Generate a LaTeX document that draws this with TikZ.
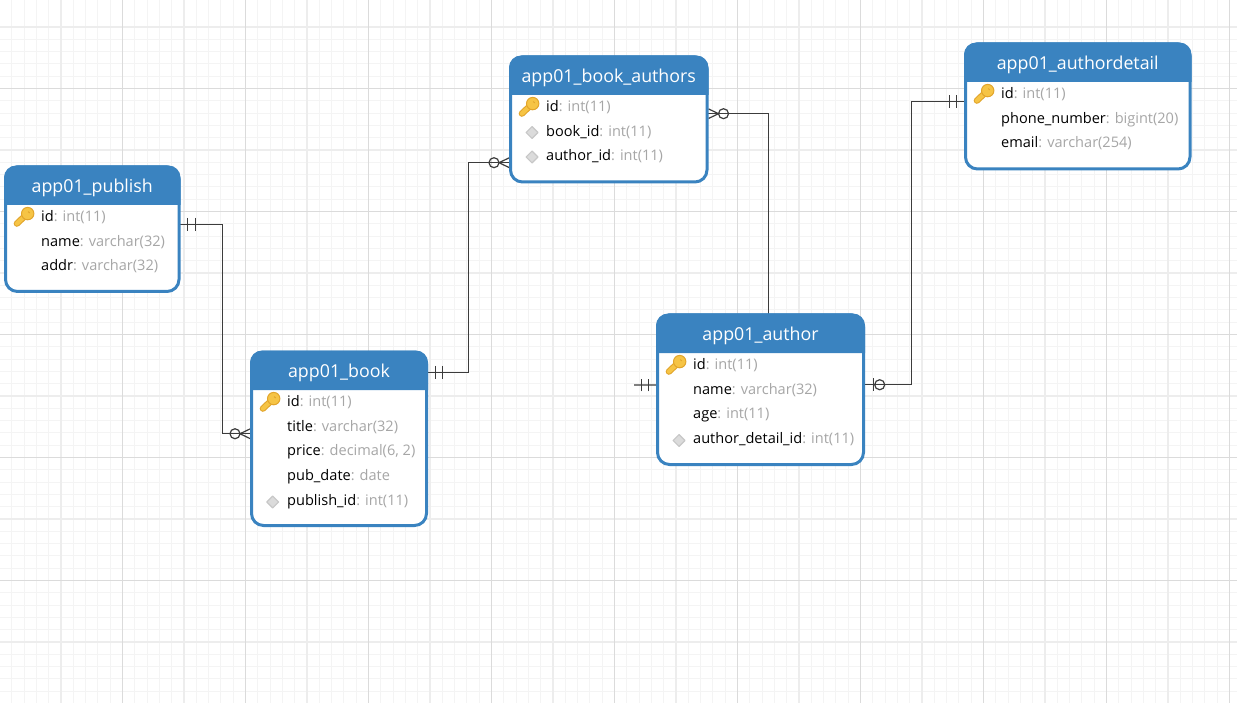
\documentclass[tikz,border=0pt]{standalone}
\usepackage{fontspec}
\setmainfont{Open Sans}
\usetikzlibrary{calc}
\pgfdeclarelayer{bg}
\pgfsetlayers{bg,main}
\definecolor{hdrblue}{HTML}{3A83C0}
\definecolor{typegray}{HTML}{A6A6A6}
\definecolor{connc}{HTML}{3C3C3C}
\definecolor{gridminor}{HTML}{F4F4F4}
\definecolor{gridmid}{HTML}{EDEDED}
\definecolor{gridmajor}{HTML}{DBDBDB}
\definecolor{keyfill}{HTML}{F6C445}
\definecolor{keyedge}{HTML}{E2A52C}
\tikzset{
  tablebox/.style={draw=hdrblue,fill=white,line width=3pt,rounded corners=12pt,outer sep=0pt,inner sep=0pt},
  titletext/.style={text=white,font=\fontsize{17.8}{20}\selectfont,inner sep=0pt},
  rowtext/.style={anchor=base west,font=\fontsize{14.55}{17}\selectfont,inner sep=0pt},
  conn/.style={draw=connc,line width=1.2pt},
  connmark/.style={draw=connc,line width=1.2pt},
  pics/onebars/.style={code={
    \draw[connmark] (8.8,-6.3) -- (8.8,6.3);
    \draw[connmark] (16.3,-6.3) -- (16.3,6.3);}},
  pics/crow/.style={code={
    \draw[connmark] (1.5,-4.8) -- (11.5,0) -- (1.5,4.8);
    \draw[connmark] (16.5,0) circle (5pt);}},
  pics/zeroone/.style={code={
    \draw[connmark] (9.8,-6.3) -- (9.8,6.3);
    \draw[connmark] (16.2,0) circle (5pt);}},
  pics/keyicon/.style={code={
    \draw[keyedge,line width=6.4pt,line cap=round] (-7.6,6.6) -- (3,-3.4);
    \draw[keyfill,line width=4.2pt,line cap=round] (-7.6,6.6) -- (3,-3.4);
    \draw[keyedge,line width=1pt,fill=keyfill] (3.2,-3.4) circle (6.2pt);
    \draw[keyedge,line width=1pt] (3.8,-5.4) -- (5.2,-4);
    }},
  pics/fkicon/.style={code={
    \draw[draw=black!22,fill=black!14,line width=1.2pt,line join=round]
      (-5.9,0) -- (0,-5.9) -- (5.9,0) -- (0,5.9) -- cycle;}},
}
\newcommand{\fld}[2]{#1\textcolor{typegray}{: #2}}
% name, outer x0,y0,x1,y1, header bottom, title
\newcommand{\erbox}[7]{%
  \pgfmathsetmacro{\bcx}{(#2+#4)/2}\pgfmathsetmacro{\bcy}{(#3+#5)/2}%
  \pgfmathsetmacro{\bwd}{#4-#2-3}\pgfmathsetmacro{\bht}{#5-#3-3}%
  \node[tablebox,minimum width=\bwd pt,minimum height=\bht pt] (#1) at (\bcx,\bcy) {};
  \fill[hdrblue] (#2,#6) [rounded corners=12pt] -- (#2,#3) -- (#4,#3) [sharp corners] -- (#4,#6) -- cycle;
  \pgfmathsetmacro{\btx}{(#2+#4)/2}\pgfmathsetmacro{\bty}{(#3+#6)/2+2.3}%
  \node[titletext] (#1-title) at (\btx,\bty) {#7};
}
% table, row no, text x, header bottom, content
\newcommand{\errow}[5]{%
  \pgfmathsetmacro{\bry}{#4+16.4+24.7*(#2-1)}%
  \node[rowtext] (#1-r#2) at (#3,\bry) {#5};
}
\begin{document}
\begin{tikzpicture}[x=1pt,y=-1pt]
\useasboundingbox (0,0) rectangle (1237,703);
\begin{pgfonlayer}{bg}
  \fill[white] (0,0) rectangle (1237,703);
  \foreach \i in {-10,...,100}{
    \pgfmathsetmacro{\gx}{122.5+12.3*\i}
    \draw[gridminor,line width=1pt] (\gx,0) -- (\gx,703);
  }
  \foreach \i in {-5,...,55}{
    \pgfmathsetmacro{\gy}{88.5+12.3*\i}
    \draw[gridminor,line width=1pt] (0,\gy) -- (1237,\gy);
  }
  \foreach \i in {-1,...,10}{
    \pgfmathsetmacro{\gx}{61+123*\i}
    \draw[gridmid,line width=1.2pt] (\gx,0) -- (\gx,703);
    \pgfmathsetmacro{\gy}{27+123*(\i+1)}
    \draw[gridmid,line width=1.2pt] (0,\gy) -- (1237,\gy);
  }
  \foreach \i in {0,...,9}{
    \pgfmathsetmacro{\gx}{122.5+122.95*\i}
    \draw[gridmajor,line width=1pt] (\gx,0) -- (\gx,703);
  }
  \foreach \i in {0,...,4}{
    \pgfmathsetmacro{\gy}{88.5+123*\i}
    \draw[gridmajor,line width=1pt] (0,\gy) -- (1237,\gy);
  }
\end{pgfonlayer}

\erbox{publish}{4}{165.5}{180.5}{293}{205}{app01\_publish}
\errow{publish}{1}{41}{205}{\fld{id}{int(11)}}
\errow{publish}{2}{41}{205}{\fld{name}{varchar(32)}}
\errow{publish}{3}{41}{205}{\fld{addr}{varchar(32)}}
\pic at (24.5,217) {keyicon};

\erbox{book}{250}{350.5}{428}{527}{390}{app01\_book}
\errow{book}{1}{287}{390}{\fld{id}{int(11)}}
\errow{book}{2}{287}{390}{\fld{title}{varchar(32)}}
\errow{book}{3}{287}{390}{\fld{price}{decimal(6, 2)}}
\errow{book}{4}{287}{390}{\fld{pub\_date}{date}}
\errow{book}{5}{287}{390}{\fld{publish\_id}{int(11)}}
\pic at (270.5,402) {keyicon};
\pic at (272.7,502) {fkicon};

\erbox{bookauthors}{509}{55.5}{708.5}{183.5}{95}{app01\_book\_authors}
\errow{bookauthors}{1}{546}{95}{\fld{id}{int(11)}}
\errow{bookauthors}{2}{546}{95}{\fld{book\_id}{int(11)}}
\errow{bookauthors}{3}{546}{95}{\fld{author\_id}{int(11)}}
\pic at (529.5,107) {keyicon};
\pic at (532,132.5) {fkicon};
\pic at (532,157) {fkicon};

\erbox{author}{656}{313.5}{865}{466}{353}{app01\_author}
\errow{author}{1}{693}{353}{\fld{id}{int(11)}}
\errow{author}{2}{693}{353}{\fld{name}{varchar(32)}}
\errow{author}{3}{693}{353}{\fld{age}{int(11)}}
\errow{author}{4}{693}{353}{\fld{author\_detail\_id}{int(11)}}
\pic at (676.5,365) {keyicon};
\pic at (679,440.5) {fkicon};

\erbox{authordetail}{964}{42.5}{1191.5}{170.5}{82}{app01\_authordetail}
\errow{authordetail}{1}{1001}{82}{\fld{id}{int(11)}}
\errow{authordetail}{2}{1001}{82}{\fld{phone\_number}{bigint(20)}}
\errow{authordetail}{3}{1001}{82}{\fld{email}{varchar(254)}}
\pic at (984.5,94) {keyicon};

\coordinate (stub) at (634,385);
\begin{pgfonlayer}{bg}
  % publish -- book
  \draw[conn] ($(publish.east)+(0,-5)$) -- ++(43.2,0) |- ($(book.west)+(0,-5)$);
  \pic at ($(publish.east)+(0,-5)$) {onebars};
  \pic[rotate=180] at ($(book.west)+(0,-5)$) {crow};
  % book -- book_authors
  \draw[conn] ($(book.east)+(0,-66.5)$) -- ++(41.8,0) |- ($(bookauthors.west)+(0,43.2)$);
  \pic at ($(book.east)+(0,-66.5)$) {onebars};
  \pic[rotate=180] at ($(bookauthors.west)+(0,43.2)$) {crow};
  % book_authors -- author
  \draw[conn] ($(bookauthors.east)+(0,-5.8)$) -| ($(author.north)+(7.8,0)$);
  \pic at ($(bookauthors.east)+(0,-5.8)$) {crow};
  % author stub
  \draw[conn] ($(author.west)+(0,-4.7)$) -- (stub);
  \pic[rotate=180] at ($(author.west)+(0,-4.7)$) {onebars};
  % author -- authordetail
  \draw[conn] ($(author.east)+(0,-5)$) -- ++(47.6,0) |- ($(authordetail.west)+(0,-5.2)$);
  \pic at ($(author.east)+(0,-5)$) {zeroone};
  \pic[rotate=180] at ($(authordetail.west)+(0,-5.2)$) {onebars};
\end{pgfonlayer}
\end{tikzpicture}
\end{document}
